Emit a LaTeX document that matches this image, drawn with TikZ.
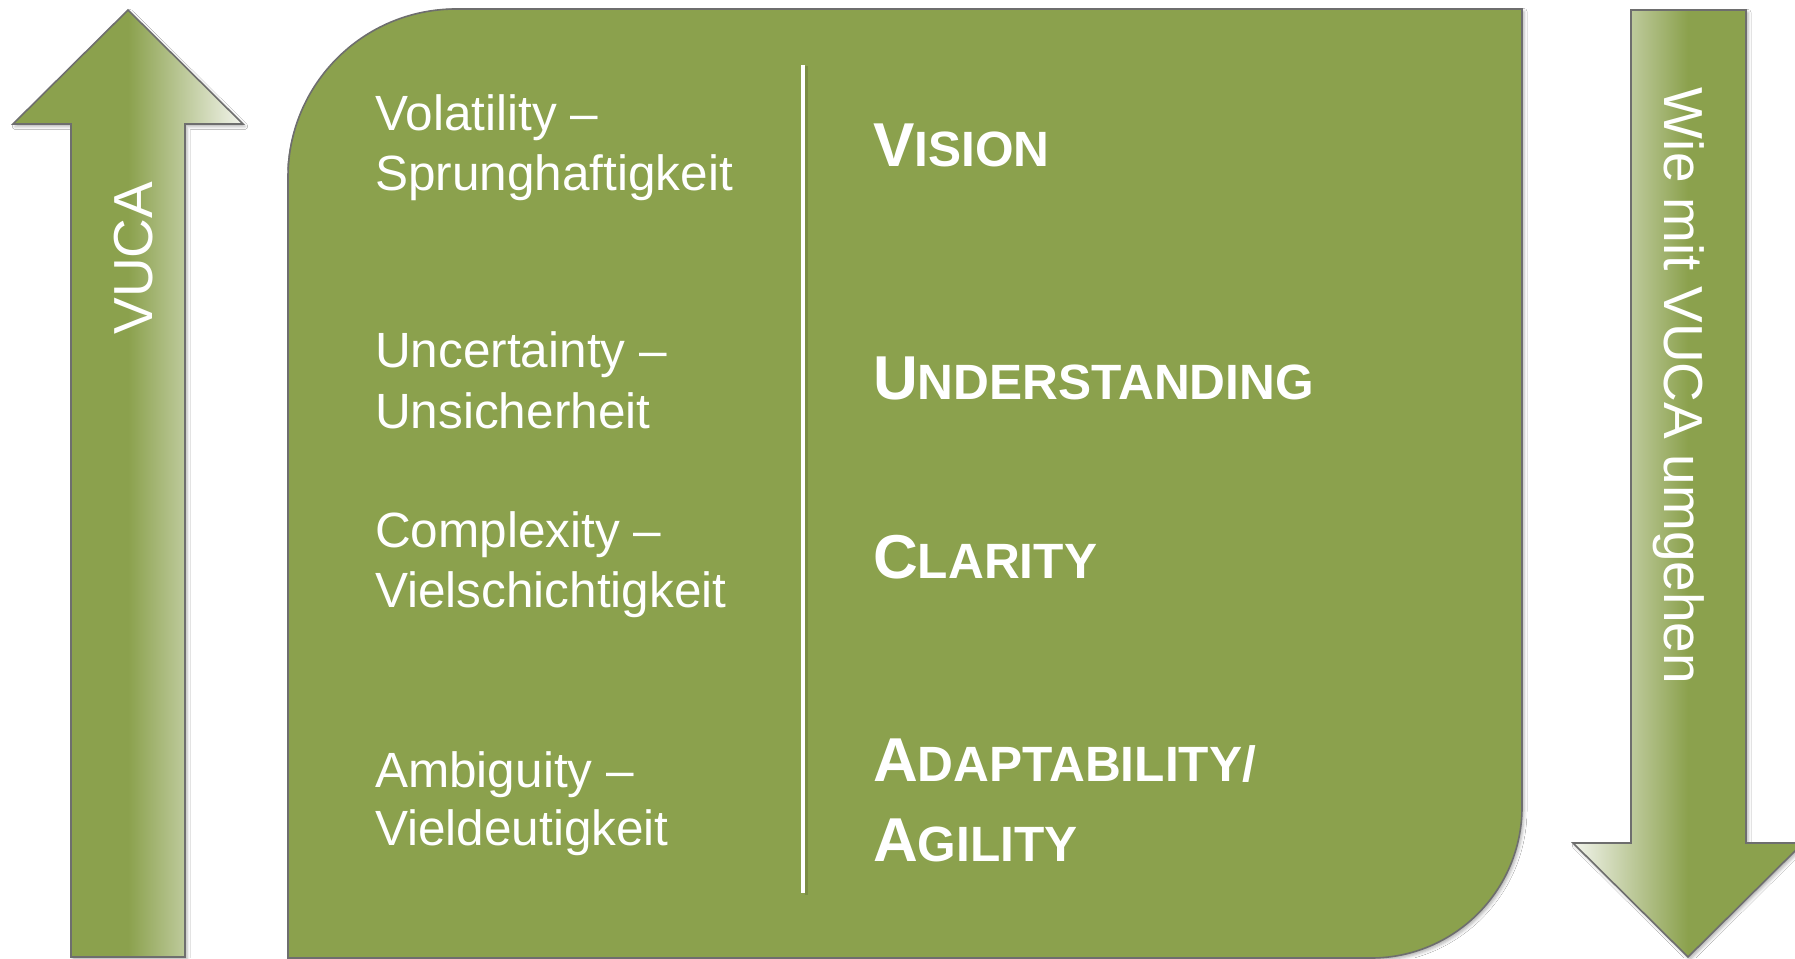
\documentclass[tikz,border=0pt]{standalone}
\usepackage{fontspec}
\setmainfont{Liberation Sans}
\usetikzlibrary{shadows.blur}
\definecolor{vgreen}{RGB}{139,161,77}
\definecolor{vlight}{RGB}{242,244,236}
\definecolor{vborder}{RGB}{110,110,110}
\newcommand{\scword}[2]{{\fontsize{62}{70}\selectfont #1}{\fontsize{49.6}{59}\selectfont #2}}
\begin{document}
\begin{tikzpicture}[x=1pt,y=-1pt,
  shapeline/.style={draw=vborder, line width=1.6pt, line join=miter},
  sh/.style={blur shadow={shadow xshift=2pt, shadow yshift=-2.5pt, shadow blur radius=3pt, shadow opacity=30}},
  lefttext/.style={anchor=base west, text=white, inner sep=0pt, font=\fontsize{49.5}{59}\selectfont},
  righttext/.style={anchor=base west, text=white, inner sep=0pt, font=\bfseries},
  rottext/.style={anchor=base, text=white, inner sep=0pt, font=\fontsize{55}{66}\selectfont},
]
\clip (0,0) rectangle (1795,958);
\fill[white] (0,0) rectangle (1795,958);

% left arrow (up)
\path[shapeline, sh, left color=vgreen, right color=vlight, middle color=vgreen]
  (71,957) -- (71,124) -- (13,124) -- (128,10) -- (243,124) -- (185,124) -- (185,957) -- cycle;

% right arrow (down)
\path[shapeline, sh, left color=vlight, right color=vgreen, middle color=vgreen]
  (1631,10) -- (1746,10) -- (1746,843) -- (1803,843) -- (1688,957) -- (1573,843) -- (1631,843) -- cycle;

% main box
\path[shapeline, sh, fill=vgreen]
  (288,958) -- (288,177) arc[start angle=180, end angle=90, radius=168pt]
  -- (1522,9) -- (1522,807) arc[start angle=0, end angle=-90, radius=151pt] -- cycle;

% divider
\draw[black, opacity=0.12, line width=3pt] (806,66) -- (806,895);
\draw[white, line width=4pt] (803,65) coordinate (dtop) -- (803,893) coordinate (dbot);

% left column
\node[lefttext] (v1) at (375,130) {Volatility –};
\node[lefttext] (v2) at (375,190) {Sprunghaftigkeit};
\node[lefttext] (u1) at (375,367) {Uncertainty –};
\node[lefttext] (u2) at (375,428) {Unsicherheit};
\node[lefttext] (c1) at (375,547) {Complexity –};
\node[lefttext] (c2) at (375,607) {Vielschichtigkeit};
\node[lefttext] (a1) at (375,787) {Ambiguity –};
\node[lefttext] (a2) at (375,845) {Vieldeutigkeit};

% right column
\node[righttext] (vision) at (873,166) {\scword{V}{ISION}};
\node[righttext] (underst) at (873,399) {\scword{U}{NDERSTANDING}};
\node[righttext] (clarity) at (873,578) {\scword{C}{LARITY}};
\node[righttext] (adapt) at (873,781) {\scword{A}{DAPTABILITY/}};
\node[righttext] (agility) at (873,861) {\scword{A}{GILITY}};

% arrow labels
\node[rottext, rotate=90] (vuca) at (152,258) {VUCA};
\node[rottext, rotate=-90] (wie) at (1664,386) {Wie mit VUCA umgehen};
\end{tikzpicture}
\end{document}
